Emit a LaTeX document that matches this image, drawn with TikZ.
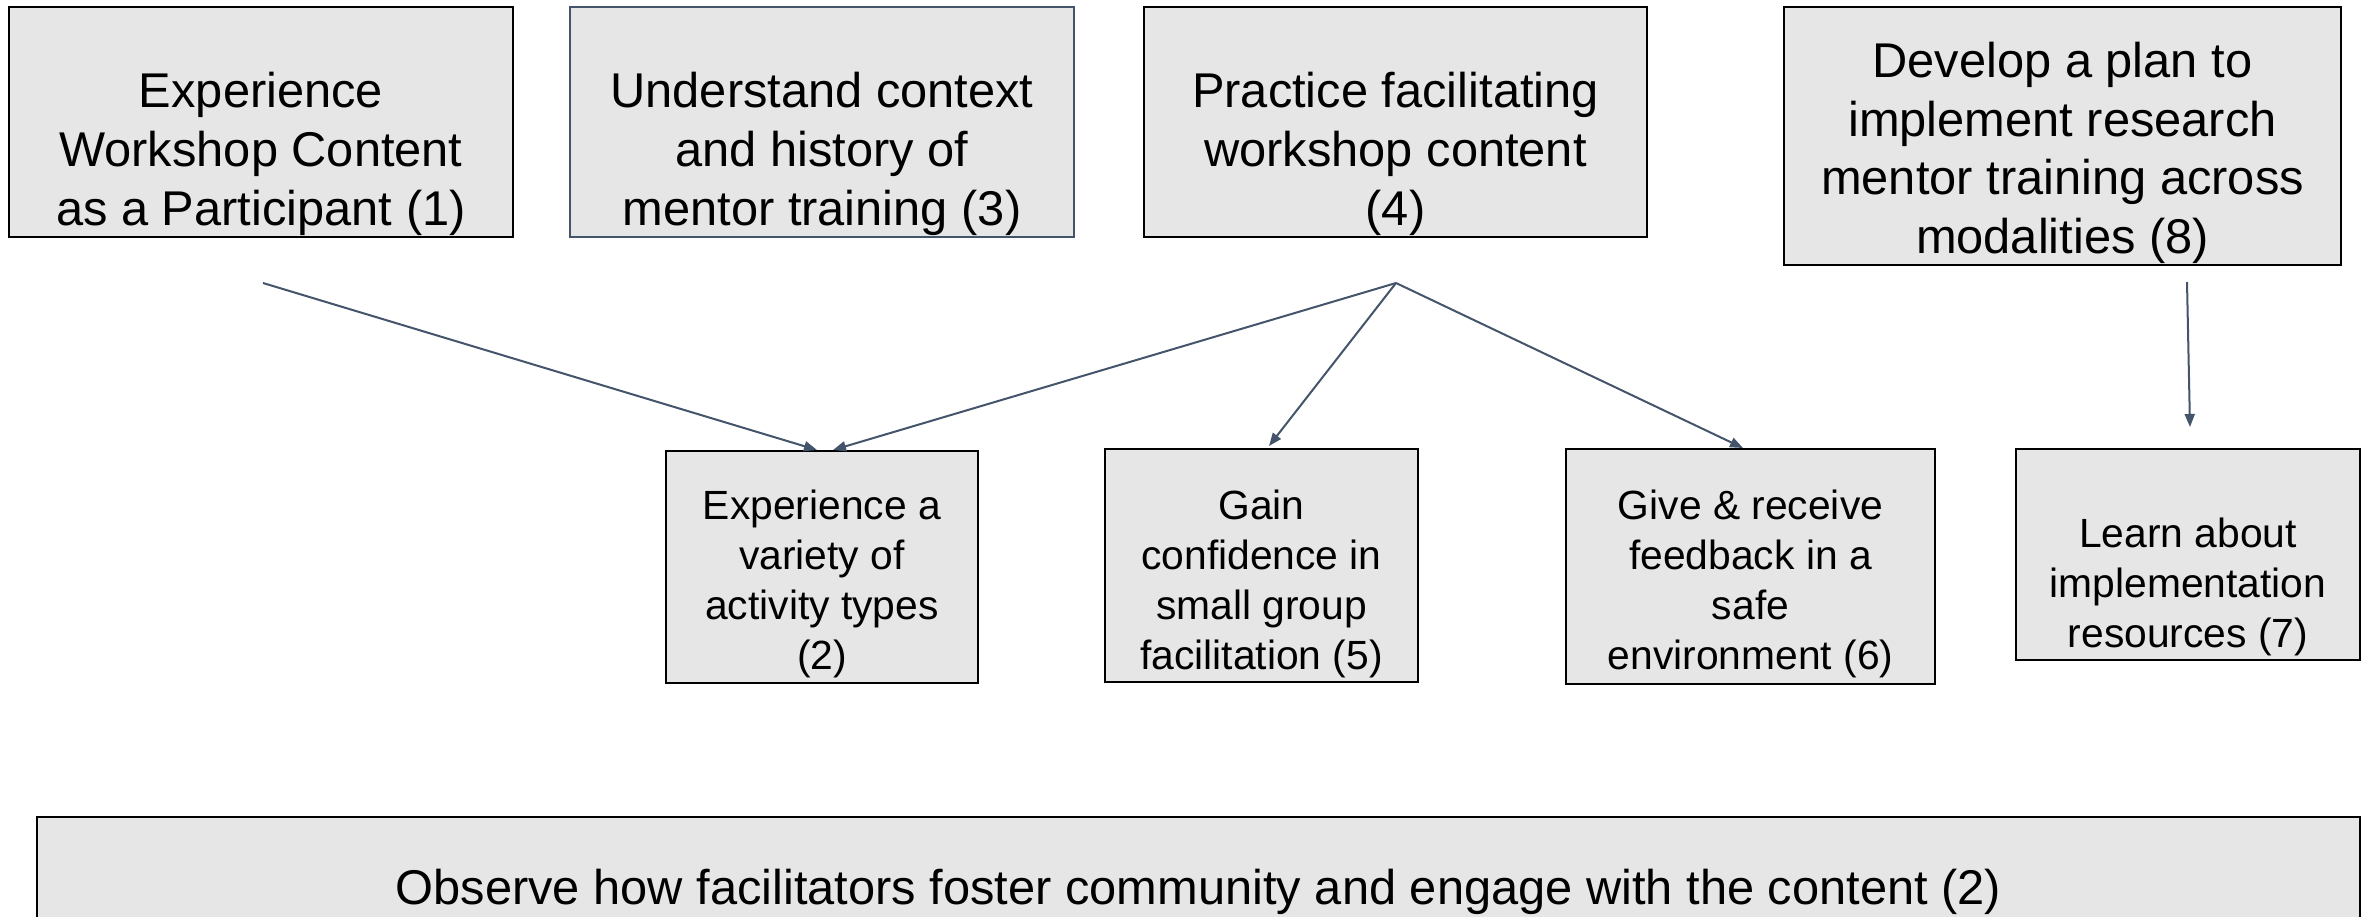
\documentclass[tikz,border=0pt]{standalone}
\usepackage{fontspec}
\setmainfont{Liberation Sans}
\usetikzlibrary{calc}
\usetikzlibrary{arrows.meta}
\definecolor{slate}{HTML}{44546A}
\definecolor{boxgray}{HTML}{E6E6E6}

\begin{document}
\begin{tikzpicture}[x=0.5pt, y=-0.5pt,
		box/.style = {rectangle, draw=black, fill=boxgray, line width=1pt, inner sep=0},
		bigtxt/.style = {font=\fontsize{24.4}{29.35}\selectfont, align=center, inner sep=0},
		smalltxt/.style = {font=\fontsize{20.4}{25}\selectfont, align=center, inner sep=0},
		r/.style = {-{Triangle[length=6.5pt, width=5pt]}, draw=slate, line width=1pt}
		]
		\useasboundingbox (0,0) rectangle (2362,916);
		\clip (0,0) rectangle (2362,916);

		%Boxes
		\node[box, minimum width=252pt, minimum height=115pt]	(b1)	at	(261, 122)	{};
		\node[box, draw=slate, minimum width=252pt, minimum height=115pt]	(b3)	at	(822, 122)	{};
		\node[box, minimum width=251.5pt, minimum height=115pt]	(b4)	at	(1395.5, 122)	{};
		\node[box, minimum width=278.5pt, minimum height=129pt]	(b8)	at	(2062.5, 136)	{};
		\node[box, minimum width=156pt, minimum height=116pt]	(b2)	at	(822, 567)	{};
		\node[box, minimum width=156.5pt, minimum height=116.5pt]	(b5)	at	(1261.5, 565.5)	{};
		\node[box, minimum width=184.5pt, minimum height=117.5pt]	(b6)	at	(1750.5, 566.5)	{};
		\node[box, minimum width=172pt, minimum height=105.5pt]	(b7)	at	(2188, 554.5)	{};
		\node[box, minimum width=1161.5pt, minimum height=72pt]	(obs)	at	(1198.5, 889)	{};

		%Texts
		\node[bigtxt]	(t1)	at	(261, 154)	{Experience\\Workshop Content\\as a Participant (1)};
		\node[bigtxt]	(t3)	at	(822, 154)	{Understand context\\and history of\\mentor training (3)};
		\node[bigtxt]	(t4)	at	(1395.5, 154)	{Practice facilitating\\workshop content\\(4)};
		\node[bigtxt]	(t8)	at	(2062.5, 153)	{Develop a plan to\\implement research\\mentor training across\\modalities (8)};
		\node[smalltxt]	(t2)	at	(822, 584)	{Experience a\\variety of\\activity types\\(2)};
		\node[smalltxt]	(t5)	at	(1261.5, 584)	{Gain\\confidence in\\small group\\facilitation (5)};
		\node[smalltxt]	(t6)	at	(1750.5, 584)	{Give \& receive\\feedback in a\\safe\\environment (6)};
		\node[smalltxt]	(t7)	at	(2188, 587)	{Learn about\\implementation\\resources (7)};
		\node[bigtxt]	(tobs)	at	(1198.5, 891.5)	{Observe how facilitators foster community and engage with the content (2)};

		%Free ends
		\coordinate	(f1)	at	($(b1.south)+(2,45)$);
		\coordinate	(f4)	at	($(b4.south)+(0.5,45)$);
		\coordinate	(f8)	at	($(b7.north)+(-1,-166)$);
		\coordinate	(e7)	at	($(b7.north)+(2,-21)$);

		%Lines
		\draw[r]	(f1)	--	($(b2.north)+(-5,0)$);
		\draw[r]	(f4)	--	($(b2.north)+(11,0)$);
		\draw[r]	(f4)	--	($(b5.north)+(7.5,-2)$);
		\draw[r]	(f4)	--	($(b6.north)+(-7.5,0)$);
		\draw[r]	(f8)	--	(e7);
	\end{tikzpicture}
\end{document}
